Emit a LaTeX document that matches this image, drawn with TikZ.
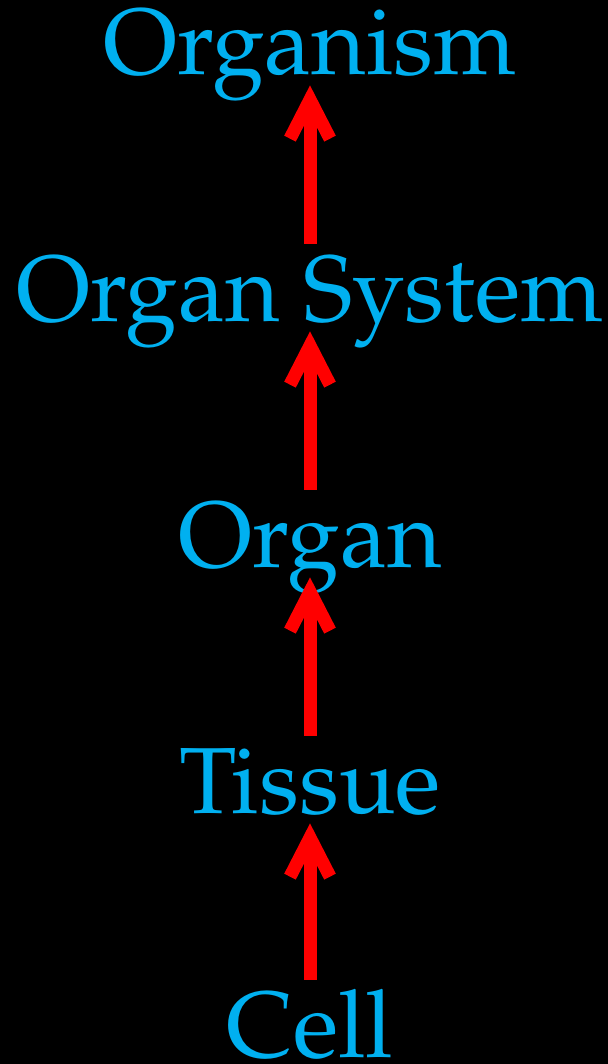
\documentclass[tikz,border=0pt]{standalone}
\usepackage[T1]{fontenc}
\usepackage{mathpazo}
\usetikzlibrary{arrows.meta}
\definecolor{levelblue}{HTML}{00B0F0}
\definecolor{arrowred}{HTML}{FF0000}

\begin{document}
\begin{tikzpicture}[
    x=0.5pt, y=-0.5pt,
    every node/.style={font=\fontsize{47}{56}\selectfont},
    stage/.style={anchor=base, inner sep=0pt, text=levelblue,
                  text height=38.5pt, text depth=0pt},
    climb/.style={-{Straight Barb[length=19.5pt, width=20pt, line width=6.5pt, sharp]},
                  arrowred, line width=6.5pt, shorten >=5pt},
]

% ================================================ canvas
\path[use as bounding box, fill=black] (0,0) rectangle (608,1064);

% ================================================ levels, bottom to top
\node[stage] (cell)     at (310,1057) {Cell};
\node[stage] (tissue)   at (310, 813) {Tissue};
\node[stage] (organ)    at (310, 567) {Organ};
\node[stage] (system)   at (310, 321) {Organ System};
\node[stage] (organism) at (310,  75) {Organism};

% ================================================ arrows up the hierarchy
\foreach \a/\b in {cell/tissue, tissue/organ, organ/system, system/organism}{
    \draw[climb] (\a.north) -- (\b.south);
}

\end{tikzpicture}
\end{document}
